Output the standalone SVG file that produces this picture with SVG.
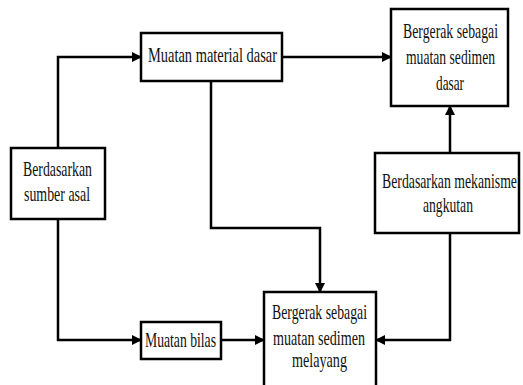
<svg xmlns="http://www.w3.org/2000/svg" width="523" height="385" viewBox="0 0 523 385">
<style>
.box{fill:#fff;stroke:#000;stroke-width:2.5}
.t{font-family:"Liberation Serif","Times New Roman",serif;font-size:20px;fill:#111}
.c{fill:none;stroke:#000;stroke-width:2.5}
</style>
<defs>
<marker id="ah" viewBox="0 0 10 10" refX="9" refY="5" markerWidth="4" markerHeight="4" orient="auto" markerUnits="strokeWidth">
<path d="M0,0 L10,5 L0,10 z" fill="#000"/>
</marker>
</defs>
<rect width="523" height="385" fill="#fff"/>
<g id="connectors">
<path class="c" d="M58,148 V57 H141" marker-end="url(#ah)"/>
<path class="c" d="M58,219 V340 H141" marker-end="url(#ah)"/>
<path class="c" d="M221,340 H264" marker-end="url(#ah)"/>
<path class="c" d="M282,57 H391" marker-end="url(#ah)"/>
<path class="c" d="M211,81 V228 H320 V292" marker-end="url(#ah)"/>
<path class="c" d="M450,153 V106" marker-end="url(#ah)"/>
<path class="c" d="M450,233 V340 H376" marker-end="url(#ah)"/>
</g>
<g id="node-material">
<rect class="box" x="141" y="33" width="141" height="48"/>
<g transform="scale(0.72,1)">
<text class="t" x="205.56" y="62" textLength="179.17" lengthAdjust="spacingAndGlyphs">Muatan material dasar</text>
</g>
</g>
<g id="node-dasar">
<rect class="box" x="391" y="9" width="117" height="97"/>
<g transform="scale(0.72,1)">
<text class="t" x="559.72" y="38" textLength="131.94" lengthAdjust="spacingAndGlyphs">Bergerak sebagai</text>
<text class="t" x="563.89" y="64" textLength="123.61" lengthAdjust="spacingAndGlyphs">muatan sedimen</text>
<text class="t" x="605.56" y="90" textLength="38.89" lengthAdjust="spacingAndGlyphs">dasar</text>
</g>
</g>
<g id="node-sumber">
<rect class="box" x="11" y="148" width="94" height="71"/>
<g transform="scale(0.72,1)">
<text class="t" x="31.94" y="176" textLength="95.83" lengthAdjust="spacingAndGlyphs">Berdasarkan</text>
<text class="t" x="33.33" y="201" textLength="91.67" lengthAdjust="spacingAndGlyphs">sumber asal</text>
</g>
</g>
<g id="node-mekanisme">
<rect class="box" x="375" y="153" width="144" height="80"/>
<g transform="scale(0.72,1)">
<text class="t" x="530.56" y="188" textLength="187.5" lengthAdjust="spacingAndGlyphs">Berdasarkan mekanisme</text>
<text class="t" x="587.5" y="212" textLength="69.44" lengthAdjust="spacingAndGlyphs">angkutan</text>
</g>
</g>
<g id="node-bilas">
<rect class="box" x="141" y="322" width="80" height="37"/>
<g transform="scale(0.72,1)">
<text class="t" x="201.39" y="347" textLength="98.61" lengthAdjust="spacingAndGlyphs">Muatan bilas</text>
</g>
</g>
<g id="node-melayang">
<rect class="box" x="264" y="292" width="112" height="100"/>
<g transform="scale(0.72,1)">
<text class="t" x="377.78" y="319" textLength="131.94" lengthAdjust="spacingAndGlyphs">Bergerak sebagai</text>
<text class="t" x="379.17" y="345" textLength="127.78" lengthAdjust="spacingAndGlyphs">muatan sedimen</text>
<text class="t" x="405.56" y="367" textLength="76.39" lengthAdjust="spacingAndGlyphs">melayang</text>
</g>
</g>
</svg>
